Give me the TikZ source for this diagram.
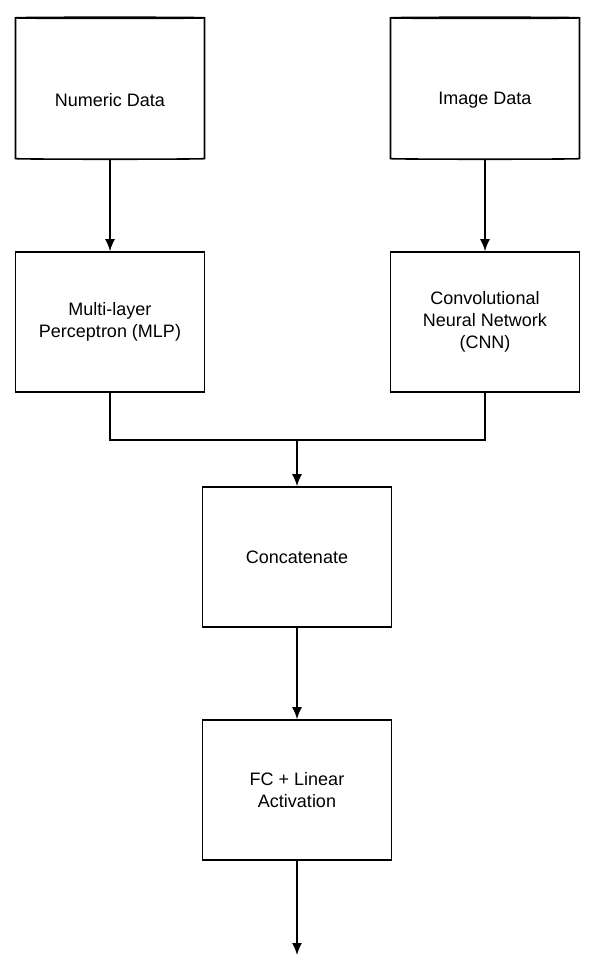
\documentclass[tikz,border=0pt]{standalone}
\usepackage{fontspec}
\setmainfont{Liberation Sans}
\usetikzlibrary{shapes.geometric,arrows.meta}
\tikzstyle{block}=[draw,line width=1.6pt,minimum width=189pt,minimum height=140pt,align=center,inner sep=2pt]
\tikzstyle{store}=[draw,line width=1.6pt,cylinder,shape border rotate=90,aspect=0.18,minimum width=189pt,minimum height=142pt,align=center]
\tikzstyle{flow}=[line width=1.6pt,-{Latex[length=12pt,width=10pt]}]
\begin{document}
\begin{tikzpicture}[x=1pt,y=-1pt,font=\fontsize{18}{22}\selectfont]
\useasboundingbox (0,0) rectangle (600,975);
\node [store] (num) at (110,89) {};
\node at (110,100) {Numeric Data};
\node [store] (img) at (485,89) {};
\node at (485,100) {Image Data};
\node [block] (mlp) at (110,322) {Multi-layer\\Perceptron (MLP)};
\node [block] (cnn) at (485,322) {Convolutional\\Neural Network\\(CNN)};
\node [block] (cat) at (297,557) {Concatenate};
\node [block] (fc) at (297,790) {FC + Linear\\Activation};
\coordinate (join) at (297,440);
\coordinate (out) at (297,955);
\draw [flow] (num) -- (mlp);
\draw [flow] (img) -- (cnn);
\draw [line width=1.6pt] (mlp.south) |- (join) -| (cnn.south);
\draw [flow] (join) -- (cat);
\draw [flow] (cat) -- (fc);
\draw [flow] (fc) -- (out);
\end{tikzpicture}
\end{document}
